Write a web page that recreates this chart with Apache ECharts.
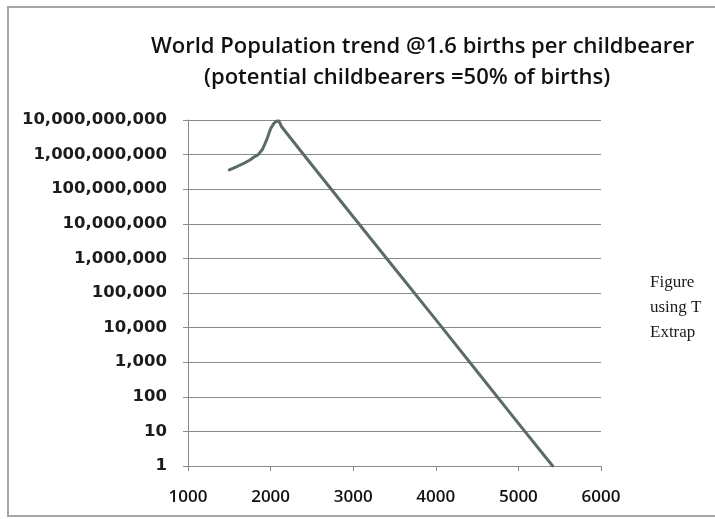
<!DOCTYPE html>
<html>
<head>
<meta charset="utf-8">
<title>World Population trend</title>
<script src="https://cdn.jsdelivr.net/npm/echarts@6/dist/echarts.min.js"></script>
<style>
  html, body { margin: 0; padding: 0; background: #ffffff; }
  #chart { width: 715px; height: 519px; }
</style>
</head>
<body>
<div id="chart"></div>
<script>
// Projected world population (years and head counts) at 1.6 births per childbearer
const years = [1500, 1600, 1700, 1750, 1800, 1850, 1900, 1930, 1960, 2000, 2040, 2070, 2100, 2130, 2200, 2500, 3000, 3500, 4000, 4500, 5000, 5415];
const population = [3.6e8, 4.6e8, 6.0e8, 7.0e8, 8.5e8, 1.0e9, 1.4e9, 2.0e9, 3.0e9, 5.6e9, 8.0e9, 9.2e9, 9.4e9, 6.6e9, 4.0e9, 5.0e8, 1.6e7, 5.2e5, 1.7e4, 540, 17, 1];

// Axis ranges and tick labels
const xTicks = [1000, 2000, 3000, 4000, 5000, 6000];
const yMin = 1;
const yMax = 1e10;

// Title lines and the side note text
const titleLine1 = 'World Population trend @1.6 births per childbearer';
const titleLine2 = '(potential childbearers =50% of births)';
const sideNote = ['Figure', 'using T', 'Extrap'];

const chart = echarts.init(document.getElementById('chart'), null, { renderer: 'canvas' });

const seriesData = years.map((y, i) => [y, population[i]]);

const titleStyle = { fontFamily: 'Open Sans', fontWeight: 600, fontSize: 22, color: '#111111' };

chart.setOption({
  backgroundColor: '#ffffff',
  animation: false,
  title: [
    { text: titleLine1, left: 146, top: 31, textStyle: titleStyle },
    { text: titleLine2, left: 199, top: 62, textStyle: titleStyle }
  ],
  grid: { left: 188, right: 114, top: 120, bottom: 53, containLabel: false },
  xAxis: {
    type: 'value',
    min: xTicks[0],
    max: xTicks[xTicks.length - 1],
    interval: 1000,
    axisLine: { show: true, lineStyle: { color: '#8a8a8a', width: 1 } },
    axisTick: { show: true, inside: false, length: 5, lineStyle: { color: '#8a8a8a' } },
    splitLine: { show: false },
    axisLabel: {
      margin: 23,
      fontFamily: 'Open Sans',
      fontWeight: 600,
      fontSize: 17,
      color: '#111111',
      formatter: v => String(v)
    }
  },
  yAxis: {
    type: 'log',
    logBase: 10,
    min: yMin,
    max: yMax,
    interval: 1,
    axisLine: { show: true, lineStyle: { color: '#8a8a8a', width: 1 } },
    axisTick: { show: true, inside: false, length: 5, lineStyle: { color: '#8a8a8a' } },
    splitLine: { show: true, lineStyle: { color: '#8a8a8a', width: 1 } },
    axisLabel: {
      margin: 21,
      fontFamily: 'DejaVu Sans',
      fontWeight: 'bold',
      fontSize: 16.5,
      color: '#1c1c1c',
      formatter: v => Math.round(v).toLocaleString('en-US')
    }
  },
  series: [
    {
      type: 'line',
      data: seriesData,
      smooth: false,
      showSymbol: false,
      lineStyle: { color: '#5c6b68', width: 3, join: 'round', cap: 'round' }
    }
  ],
  graphic: [
    {
      type: 'rect',
      shape: { x: 8, y: 7, width: 740, height: 509 },
      style: { fill: 'none', stroke: '#a6a6a6', lineWidth: 2 },
      silent: true,
      z: -1
    },
    {
      type: 'group',
      left: 650,
      top: 274,
      children: sideNote.map((t, i) => ({
        type: 'text',
        x: 0,
        y: i * 25,
        style: { text: t, font: '17px "Liberation Serif"', fill: '#1a1a1a' }
      }))
    }
  ]
});
</script>
</body>
</html>
